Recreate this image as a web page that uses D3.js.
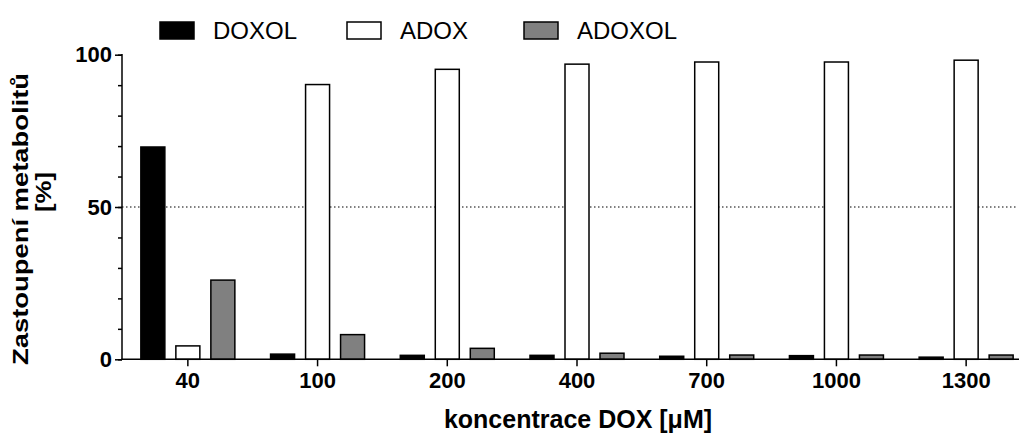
<!DOCTYPE html>
<html>
<head>
<meta charset="utf-8">
<script src="https://cdn.jsdelivr.net/npm/d3@7/dist/d3.min.js"></script>
<style>
  html, body { margin: 0; padding: 0; background: #fff; }
  svg { display: block; font-family: "Liberation Sans", Arial, sans-serif; }
</style>
</head>
<body>
<svg id="chart" width="1019" height="434"></svg>
<script>
const categories = ["40", "100", "200", "400", "700", "1000", "1300"];
const seriesNames = ["DOXOL", "ADOX", "ADOXOL"];
const doxol  = [69.7, 1.7, 1.3, 1.3, 1.0, 1.2, 0.7];
const adox   = [4.4, 90.2, 95.2, 96.9, 97.6, 97.6, 98.2];
const adoxol = [26.0, 8.1, 3.6, 2.0, 1.4, 1.4, 1.4];
const yTicksMajor = [0, 50, 100];
const yTicksMinor = [0, 10, 20, 30, 40, 50, 60, 70, 80, 90, 100];
const refLine = 50;

const seriesValues = [doxol, adox, adoxol];
const fills = { DOXOL: "#000000", ADOX: "#ffffff", ADOXOL: "#808080" };

const svg = d3.select("#chart");
const x0 = 122, y0 = 359.3, yTop = 54.7;

const x = d3.scaleBand().domain(categories).range([123, 1031]).padding(0);
const xs = d3.scalePoint().domain(seriesNames).range([-35, 35]);
const y = d3.scaleLinear().domain([0, 100]).range([y0, yTop]);
const barW = 24;

// dotted reference line
svg.append("line")
  .attr("x1", x0).attr("x2", 1017)
  .attr("y1", y(refLine)).attr("y2", y(refLine))
  .attr("stroke", "#000").attr("stroke-width", 1.2)
  .attr("stroke-dasharray", "1.5,2.5");

// bars
const rows = [];
categories.forEach((c, i) => {
  seriesNames.forEach((s, j) => rows.push({ cat: c, series: s, value: seriesValues[j][i] }));
});
svg.append("g").selectAll("rect").data(rows).join("rect")
  .attr("x", d => x(d.cat) + x.bandwidth() / 2 + xs(d.series) - barW / 2)
  .attr("y", d => y(d.value))
  .attr("width", barW)
  .attr("height", d => y(0) - y(d.value))
  .attr("fill", d => fills[d.series])
  .attr("stroke", "#000").attr("stroke-width", 1.5);

// y axis
const yAxisMinor = d3.axisLeft(y).tickValues(yTicksMinor).tickSize(4).tickFormat("");
const gyMinor = svg.append("g").attr("transform", `translate(${x0},0)`).call(yAxisMinor);
gyMinor.select(".domain").remove();
gyMinor.selectAll("line").attr("stroke-width", 1.5);
const yAxis = d3.axisLeft(y).tickValues(yTicksMajor).tickSize(7).tickPadding(3).tickFormat(d3.format("d"));
const gy = svg.append("g").attr("transform", `translate(${x0},0)`).call(yAxis);
gy.select(".domain").remove();
gy.selectAll("line").attr("stroke-width", 1.5);
gy.selectAll("text").attr("font-size", 22).attr("font-weight", "bold")
  .attr("font-family", "'Liberation Sans', Arial, sans-serif").attr("fill", "#000");
svg.append("line").attr("x1", x0).attr("x2", x0).attr("y1", yTop - 0.75).attr("y2", y0 + 0.75)
  .attr("stroke", "#000").attr("stroke-width", 1.5);

// x axis
const xAxis = d3.axisBottom(x).tickSize(7).tickPadding(6);
const gx = svg.append("g").attr("transform", `translate(0,${y0})`).call(xAxis);
gx.select(".domain").remove();
gx.selectAll("line").attr("stroke-width", 1.5);
gx.selectAll("text").attr("font-size", 22).attr("font-weight", "bold")
  .attr("font-family", "'Liberation Sans', Arial, sans-serif").attr("fill", "#000");
svg.append("line").attr("x1", x0 - 0.75).attr("x2", 1019).attr("y1", y0).attr("y2", y0)
  .attr("stroke", "#000").attr("stroke-width", 1.5);

// axis titles
svg.append("text").attr("x", 578).attr("y", 428)
  .attr("text-anchor", "middle").attr("font-size", 25).attr("font-weight", "bold")
  .text("koncentrace DOX [\u03BCM]");
svg.append("text").attr("transform", "translate(28,219) rotate(-90)")
  .attr("text-anchor", "middle").attr("font-size", 22).attr("font-weight", "bold")
  .attr("textLength", 292).attr("lengthAdjust", "spacingAndGlyphs")
  .text("Zastoupení metabolitů");
svg.append("text").attr("transform", "translate(51,192) rotate(-90)")
  .attr("text-anchor", "middle").attr("font-size", 22).attr("font-weight", "bold")
  .attr("textLength", 40).attr("lengthAdjust", "spacingAndGlyphs")
  .text("[%]");

// legend
const legendX = { DOXOL: 160, ADOX: 347, ADOXOL: 524 };
const lg = svg.append("g").selectAll("g").data(seriesNames).join("g")
  .attr("transform", d => `translate(${legendX[d]},22)`);
lg.append("rect").attr("width", 34).attr("height", 17)
  .attr("fill", d => fills[d]).attr("stroke", "#000").attr("stroke-width", 1.5);
lg.append("text").attr("x", 53).attr("y", 16.5).attr("font-size", 24)
  .text(d => d);
</script>
</body>
</html>
